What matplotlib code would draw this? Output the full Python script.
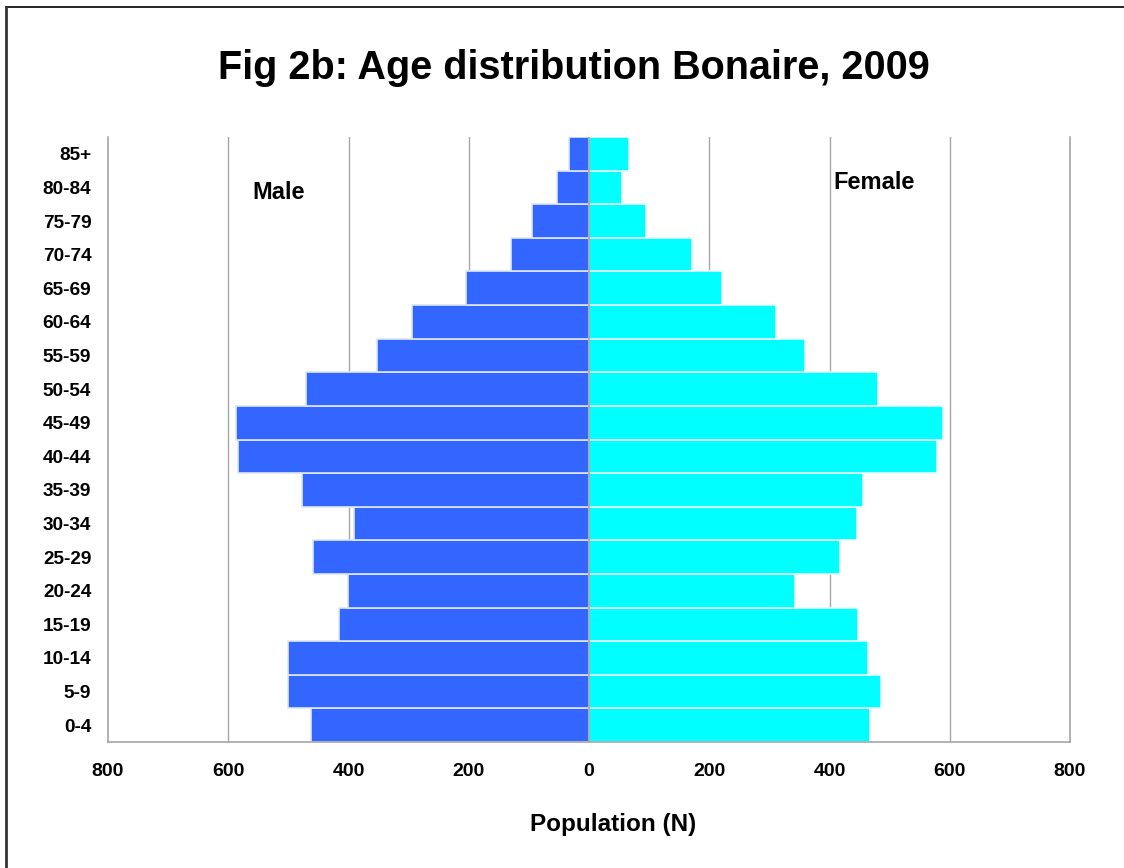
import matplotlib
matplotlib.use("Agg")
import matplotlib.pyplot as plt
from matplotlib.lines import Line2D

plt.rcParams['font.family'] = ['Liberation Sans', 'DejaVu Sans']

age_groups = ["0-4", "5-9", "10-14", "15-19", "20-24", "25-29", "30-34", "35-39",
              "40-44", "45-49", "50-54", "55-59", "60-64", "65-69", "70-74",
              "75-79", "80-84", "85+"]
male = [462, 500, 500, 416, 401, 459, 391, 478, 584, 587, 471, 352, 295, 205,
        130, 95, 53, 33]
female = [467, 486, 464, 448, 343, 417, 446, 455, 578, 588, 480, 359, 311, 221,
          171, 95, 55, 67]
xticks = [-800, -600, -400, -200, 0, 200, 400, 600, 800]
xtick_labels = ["800", "600", "400", "200", "0", "200", "400", "600", "800"]

fig = plt.figure(figsize=(11.24, 8.68), dpi=100)
ax = fig.add_axes([108/1124, 1-742/868, (1070-108)/1124, (742-137)/868])

y = list(range(len(age_groups)))
ax.barh(y, [-m for m in male], height=1.0, color="#3366FF",
        edgecolor="#dde6ff", linewidth=1.2, zorder=2)
ax.barh(y, female, height=1.0, color="#00FFFF",
        edgecolor="#e6ffff", linewidth=1.2, zorder=2)

for g in [-600, -400, -200, 200, 400, 600]:
    ax.axvline(g, color="#a6a6a6", linewidth=1, zorder=1)
ax.axvline(0, color="#a0a0a0", linewidth=1.2, zorder=3)

ax.set_xlim(-800, 800)
ax.set_ylim(-0.5, len(age_groups) - 0.5)
ax.set_xticks(xticks)
ax.set_xticklabels(xtick_labels, fontsize=14, fontweight="bold")
ax.set_yticks(y)
ax.set_yticklabels(age_groups, fontsize=13.7, fontweight="bold")
ax.tick_params(axis="x", length=0, pad=15)
ax.tick_params(axis="y", length=0, pad=12)

for side in ["left", "right", "bottom"]:
    ax.spines[side].set_color("#a6a6a6")
    ax.spines[side].set_linewidth(1.2)
ax.spines["top"].set_visible(False)

ax.text(-517, 15.85, "Male", fontsize=17, fontweight="bold", ha="center", va="center")
ax.text(407, 16.15, "Female", fontsize=17, fontweight="bold", ha="left", va="center")

fig.text(613/1124, 1-824/868, "Population (N)", fontsize=17.5, fontweight="bold",
         ha="center", va="center")
fig.text(574/1124, 1-68/868, "Fig 2b: Age distribution Bonaire, 2009", fontsize=28.5,
         fontweight="bold", ha="center", va="center")

# figure border (top and left only)
fig.add_artist(Line2D([6/1124, 1.0], [1-7/868, 1-7/868], color="black",
                      linewidth=1.2, transform=fig.transFigure))
fig.add_artist(Line2D([6/1124, 6/1124], [0.0, 1-7/868], color="#333333",
                      linewidth=2, transform=fig.transFigure))

fig.savefig("out.png", dpi=100)
